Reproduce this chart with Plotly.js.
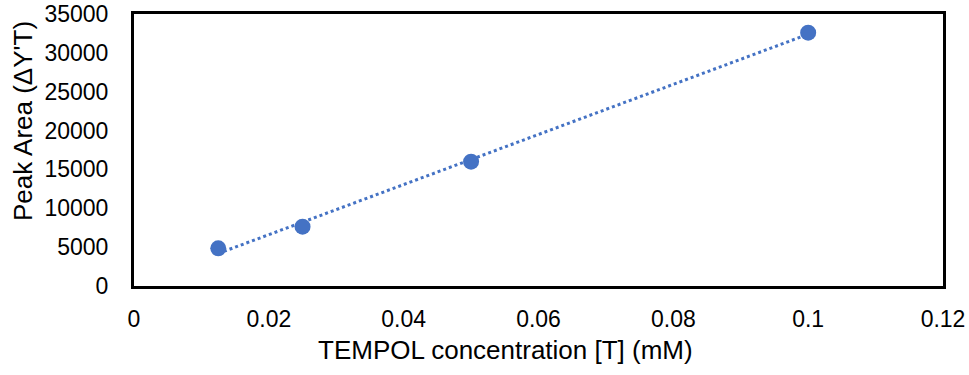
<!DOCTYPE html>
<html>
<head>
<meta charset="utf-8">
<script src="https://cdn.plot.ly/plotly-3.0.1.min.js"></script>
<style>html,body{margin:0;padding:0;background:#fff;}#chart{width:969px;height:375px;}</style>
</head>
<body>
<div id="chart"></div>
<script>
const concentration = [0.0125, 0.025, 0.05, 0.1];
const peakArea = [4850, 7630, 16000, 32600];
const xTickVals = [0, 0.02, 0.04, 0.06, 0.08, 0.1, 0.12];
const xTickText = ["0", "0.02", "0.04", "0.06", "0.08", "0.1", "0.12"];
const yTickVals = [0, 5000, 10000, 15000, 20000, 25000, 30000, 35000];
const yTickText = ["0", "5000", "10000", "15000", "20000", "25000", "30000", "35000"];
const xTitle = "TEMPOL concentration [T] (mM)";
const yTitle = "Peak Area (ΔY'T)";

// linear least-squares trendline (as in the original spreadsheet chart)
const n = concentration.length;
const mx = concentration.reduce((a, b) => a + b, 0) / n;
const my = peakArea.reduce((a, b) => a + b, 0) / n;
let sxy = 0, sxx = 0;
for (let i = 0; i < n; i++) {
  sxy += (concentration[i] - mx) * (peakArea[i] - my);
  sxx += (concentration[i] - mx) ** 2;
}
const slope = sxy / sxx, intercept = my - slope * mx;
const trendX = [Math.min(...concentration), Math.max(...concentration)];
const trendY = trendX.map(x => intercept + slope * x);

const blue = "#4472C4";
const family = "Liberation Sans, Arial, sans-serif";
const tickFont = {family: family, size: 23, color: "#000"};
const titleFont = {family: family, size: 26, color: "#000"};

const traces = [
  {x: trendX, y: trendY, mode: "lines", line: {color: blue, width: 3, dash: "dot"}, hoverinfo: "skip"},
  {x: concentration, y: peakArea, mode: "markers", marker: {color: blue, size: 16}}
];

const layout = {
  width: 969, height: 375,
  margin: {l: 134, r: 26, t: 14, b: 89},
  paper_bgcolor: "#fff", plot_bgcolor: "#fff",
  showlegend: false,
  font: tickFont,
  xaxis: {
    range: [0, 0.12], tickvals: xTickVals, ticktext: xTickText,
    showgrid: false, zeroline: false, showline: true, mirror: true,
    linecolor: "#000", linewidth: 3, ticks: "", ticklabelstandoff: 10,
    tickfont: tickFont
  },
  yaxis: {
    range: [0, 35000], tickvals: yTickVals, ticktext: yTickText,
    showgrid: false, zeroline: false, showline: true, mirror: true,
    linecolor: "#000", linewidth: 3, ticks: "", ticklabelstandoff: 18,
    tickfont: tickFont
  },
  annotations: [
    {text: yTitle, xref: "paper", yref: "paper", x: 0, y: 0.5, xshift: -111, yshift: 29,
     xanchor: "center", yanchor: "middle", textangle: -90, showarrow: false, font: titleFont},
    {text: xTitle, xref: "paper", yref: "paper", x: 0.5, y: 0, xshift: -33, yshift: -64,
     xanchor: "center", yanchor: "middle", showarrow: false, font: titleFont}
  ]
};

Plotly.newPlot("chart", traces, layout, {displayModeBar: false, staticPlot: true});
</script>
</body>
</html>
